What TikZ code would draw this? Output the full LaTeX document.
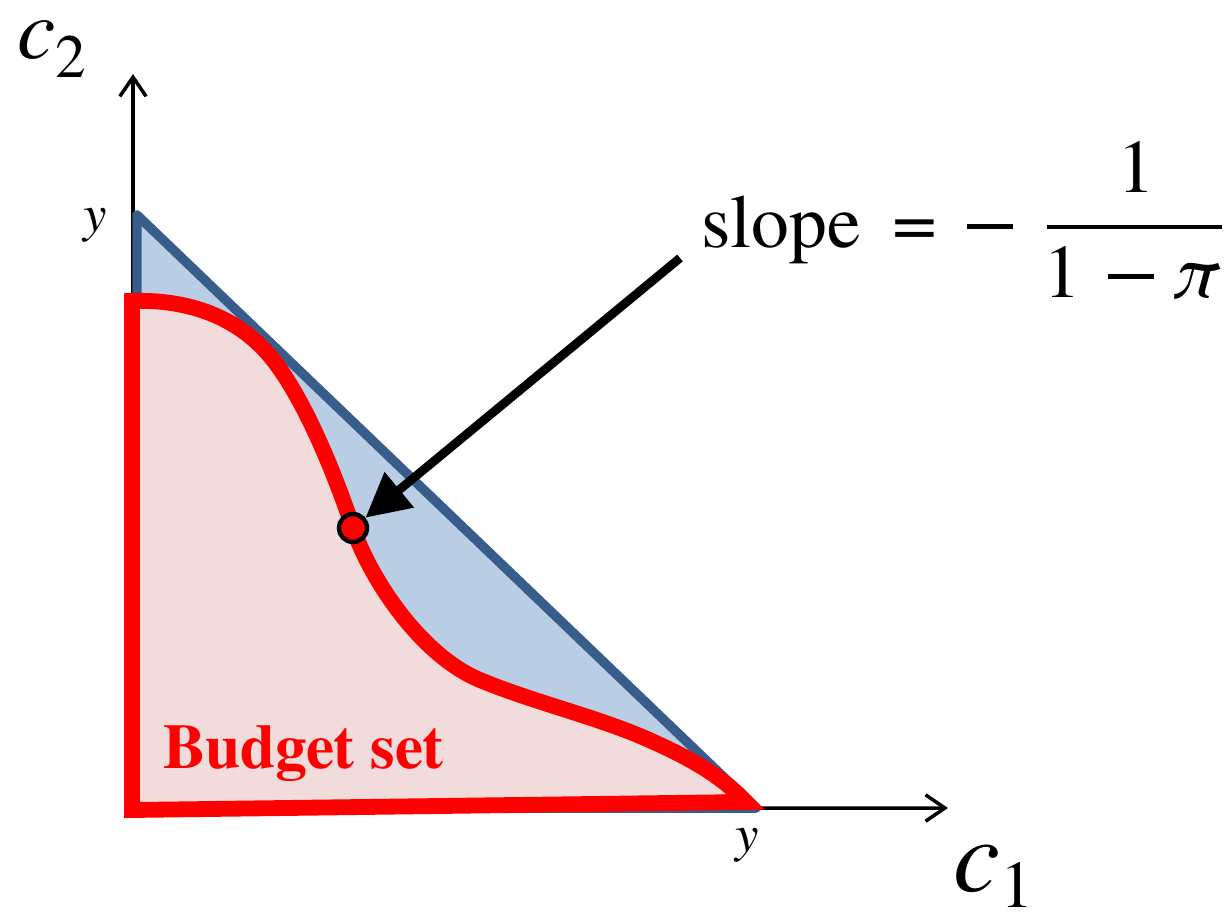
\documentclass[tikz,border=0pt]{standalone}
\usepackage{fontspec}
\IfFontExistsTF{texgyretermes-regular.otf}{%
  \setmainfont{texgyretermes}[Extension=.otf,UprightFont=*-regular,BoldFont=*-bold,ItalicFont=*-italic,BoldItalicFont=*-bolditalic]}{%
  \setmainfont{Liberation Serif}}
\usetikzlibrary{arrows.meta}
\definecolor{bluefill}{HTML}{B9CDE5}
\definecolor{bluedraw}{HTML}{385D8A}
\definecolor{pinkfill}{HTML}{F2DCDB}
\definecolor{budgetred}{HTML}{FF0000}
\newcommand{\longminus}{\rule[0.235em]{0.6em}{0.07em}}
\tikzset{
  axis/.style={line width=2pt,-{Straight Barb[length=11pt,width=15pt,line width=2pt]}},
  triangleset/.style={fill=bluefill,draw=bluedraw,line width=5.4pt,line join=round},
  budgetset/.style={fill=pinkfill,draw=budgetred,line width=9pt},
  pointer/.style={line width=5pt,-{Triangle[length=25pt,width=25pt]}},
  dotmark/.style={circle,fill=budgetred,draw=black,line width=2.5pt,minimum size=0.56cm,inner sep=0pt},
  biglabel/.style={inner sep=0pt},
  formula/.style={inner sep=0pt,font=\fontsize{43}{50}\selectfont},
}
\begin{document}
\begin{tikzpicture}[x=0.02cm,y=-0.02cm]
\useasboundingbox (0,0) rectangle (1231,916);
% axes
\coordinate (O) at (133,809);
\coordinate (ytip) at (133,74);
\coordinate (xtip) at (948,808);
\draw[axis] (O) -- (ytip);
\draw[axis] (O) -- (xtip);
% blue triangle
\coordinate (ty) at (137,215);
\coordinate (tO) at (137,808);
\coordinate (tx) at (756,808);
\draw[triangleset] (ty) -- (tO) -- (tx) -- cycle;
% budget set
\draw[budgetset] (132,810) -- (132,301)
  .. controls (190,299) and (238,318) .. (270,356)
  .. controls (300,392) and (330,460) .. (353,528)
  .. controls (370,578) and (420,655) .. (480,680)
  .. controls (530,701) and (600,718) .. (647,739)
  .. controls (690,758) and (720,775) .. (746,802)
  -- cycle;
% dot and pointer
\node[dotmark] (pt) at (353,528) {};
\coordinate (ptail) at (680,258);
\draw[pointer] (ptail) -- (pt);
% labels
\node[biglabel,anchor=base west] (c2) at (17,58) {\fontsize{49}{56}\selectfont\itshape c\/\upshape\raisebox{-0.5ex}{\fontsize{35}{40}\selectfont 2}};
\node[biglabel,anchor=base west] (c1) at (953,891) {\fontsize{60}{66}\selectfont\itshape c\/\upshape\raisebox{-0.35ex}{\fontsize{38}{44}\selectfont 1}};
\node[biglabel,anchor=base] (yv) at (95,231) {\fontsize{30}{34}\selectfont\itshape y};
\node[biglabel,anchor=base] (yh) at (747,851) {\fontsize{30}{34}\selectfont\itshape y};
\node[biglabel,anchor=base west,text=budgetred] (bs) at (163,768) {\fontsize{36}{40}\selectfont\bfseries Budget set};
% slope formula
\node[formula,anchor=base west] (slope) at (701,247) {slope};
\node[formula,anchor=base] (eq) at (915,247) {\scalebox{1.05}[1]{=}};
\node[formula,anchor=base] (minus) at (990,247) {\longminus};
\node[formula,anchor=base] (num) at (1136,192) {1};
\node[formula,anchor=base] (den1) at (1062,297) {1};
\node[formula,anchor=base] (den2) at (1131,297) {\longminus};
\node[formula,anchor=base] (den3) at (1193,297) {\itshape π};
\coordinate (barl) at (1047,227);
\coordinate (barr) at (1222,227);
\draw[line width=2.4pt] (barl) -- (barr);
\end{tikzpicture}
\end{document}
